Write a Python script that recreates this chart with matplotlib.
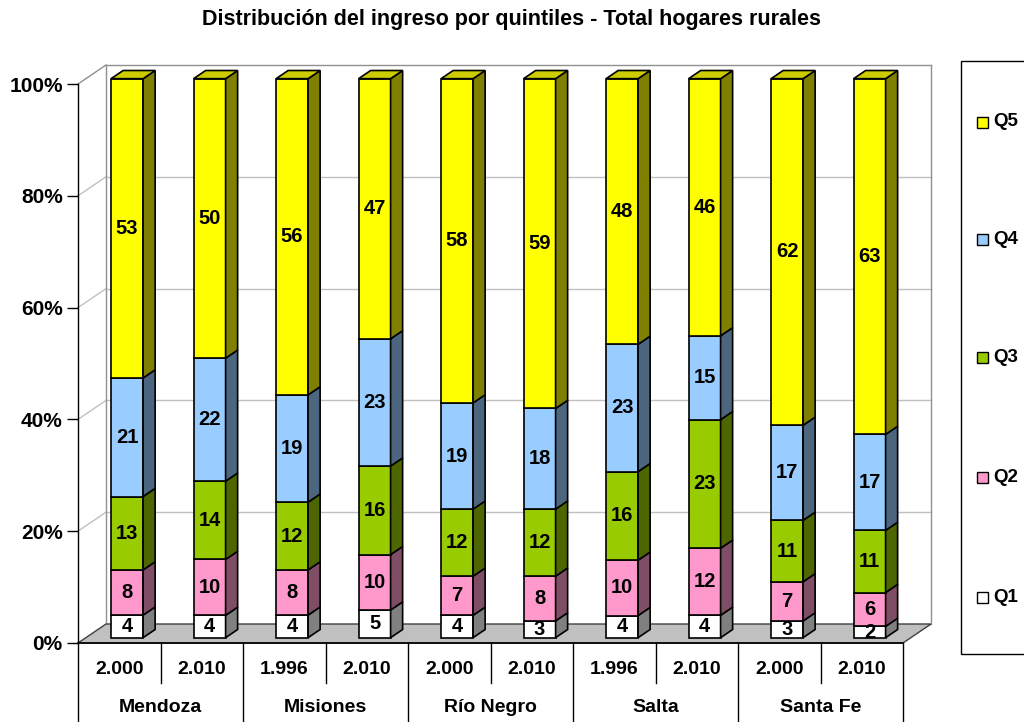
import numpy as np
import matplotlib.pyplot as plt
from matplotlib.patches import Polygon, Rectangle

plt.rcParams['font.family'] = ['Liberation Sans', 'DejaVu Sans']
plt.rcParams['font.weight'] = 'bold'

years = ["2.000", "2.010", "1.996", "2.010", "2.000", "2.010", "1.996", "2.010", "2.000", "2.010"]
provinces = ["Mendoza", "Misiones", "Río Negro", "Salta", "Santa Fe"]
quintiles = ["Q1", "Q2", "Q3", "Q4", "Q5"]
q1 = [4, 4, 4, 5, 4, 3, 4, 4, 3, 2]
q2 = [8, 10, 8, 10, 7, 8, 10, 12, 7, 6]
q3 = [13, 14, 12, 16, 12, 12, 16, 23, 11, 11]
q4 = [21, 22, 19, 23, 19, 18, 23, 15, 17, 17]
q5 = [53, 50, 56, 47, 58, 59, 48, 46, 62, 63]

front = ["#FFFFFF", "#FF99CC", "#99CC00", "#99CCFF", "#FFFF00"]
side = ["#808080", "#804D66", "#4D6600", "#4D6680", "#808000"]
top = ["#C0C0C0", "#CC7AA3", "#7AA300", "#7AA3CC", "#CCCC00"]

W, H = 1024, 722
fig = plt.figure(figsize=(W / 100, H / 100), dpi=100)
ax = fig.add_axes([78 / W, (H - 643) / H, 825 / W, 559 / H])
n = len(years)
ax.set_xlim(-0.5, n - 0.5)
ax.set_ylim(0, 100)

pxx = 1 / 82.5          # data units per pixel in x
pxy = 100 / 559         # data units per pixel in y
DX, DY = 28 * pxx, 19 * pxy   # depth of the chart
f0, fd = 0.28, 0.43           # bar front position and depth (fraction)
bw = 32 * pxx

grid_c = "#C0C0C0"
# walls and gridlines
for g in [20, 40, 60, 80, 100]:
    c = grid_c if g < 100 else "#909090"
    ax.plot([-0.5, -0.5 + DX], [g, g + DY], color=c, lw=1, zorder=1, clip_on=False)
    ax.plot([-0.5 + DX, n - 0.5 + DX], [g + DY, g + DY], color=c, lw=1, zorder=1, clip_on=False)
ax.plot([-0.5 + DX, -0.5 + DX], [DY, 100 + DY], color="#909090", lw=1, zorder=1, clip_on=False)
ax.plot([n - 0.5 + DX, n - 0.5 + DX], [DY, 100 + DY], color="#909090", lw=1, zorder=1, clip_on=False)
# floor
ax.add_patch(Polygon([(-0.5, 0), (n - 0.5, 0), (n - 0.5 + DX, DY), (-0.5 + DX, DY)],
                     closed=True, facecolor="#C0C0C0", edgecolor="#404040", lw=1, zorder=2, clip_on=False))

data = np.array([q1, q2, q3, q4, q5], dtype=float)
pct = data / data.sum(axis=0) * 100
x = np.arange(n)
ox, oy = f0 * DX, f0 * DY
sx, sy = fd * DX, fd * DY
bottom = np.zeros(n)
for k in range(5):
    h = pct[k]
    ax.bar(x + ox, h, bottom=bottom + oy, width=bw, color=front[k], edgecolor="black",
           lw=1.2, zorder=5, clip_on=False)
    for i in range(n):
        xr = x[i] + ox + bw / 2
        xl = x[i] + ox - bw / 2
        b = bottom[i] + oy
        t = b + h[i]
        ax.add_patch(Polygon([(xr, b), (xr + sx, b + sy), (xr + sx, t + sy), (xr, t)], closed=True,
                             facecolor=side[k], edgecolor="black", lw=1.2, zorder=5, clip_on=False))
        if k == 4:
            ax.add_patch(Polygon([(xl, t), (xr, t), (xr + sx, t + sy), (xl + sx, t + sy)], closed=True,
                                 facecolor=top[k], edgecolor="black", lw=1.2, zorder=5, clip_on=False))
        ax.text(x[i] + ox, b + h[i] / 2, str(int(data[k, i])), ha="center", va="center",
                fontsize=14.5, fontweight="bold", zorder=6)
    bottom += h

# axes styling
for s in ["top", "right", "bottom"]:
    ax.spines[s].set_visible(False)
ax.spines["left"].set_linewidth(1)
ax.set_yticks([0, 20, 40, 60, 80, 100])
ax.set_yticklabels(["0%", "20%", "40%", "60%", "80%", "100%"], fontsize=15, fontweight="bold")
ax.tick_params(axis="y", length=8, width=1, pad=3)
ax.set_xticks([])
ax.patch.set_alpha(0)

# category table below the floor
row1 = -40 * pxy
row2 = -90 * pxy
ax.plot([-0.5, n - 0.5], [0, 0], color="black", lw=1.2, zorder=3, clip_on=False)
for i in range(n + 1):
    yb = row2 if i % 2 == 0 else row1
    ax.plot([i - 0.5, i - 0.5], [0, yb], color="black", lw=1, clip_on=False)
for i in range(n):
    ax.text(i, -27 * pxy, years[i], ha="center", va="center", fontsize=14, fontweight="bold")
for j, p in enumerate(provinces):
    ax.text(2 * j + 0.5, -65 * pxy, p, ha="center", va="center", fontsize=14, fontweight="bold")

fig.text(512 / W, 1 - 19 / H, "Distribución del ingreso por quintiles - Total hogares rurales",
         ha="center", va="center", fontsize=15.5, fontweight="bold")

# legend box
fig.patches.append(Rectangle((961 / W, (H - 654) / H), 80 / W, 593 / H, transform=fig.transFigure,
                             facecolor="white", edgecolor="black", lw=1))
leg_y = [597, 477, 358, 240, 122]
for k in range(5):
    yc = 1 - leg_y[k] / H
    fig.patches.append(Rectangle((977 / W, yc - 5.5 / H), 11 / W, 11 / H, transform=fig.transFigure,
                                 facecolor=front[k], edgecolor="black", lw=1))
    fig.text(993 / W, yc, quintiles[k], ha="left", va="center", fontsize=13.5, fontweight="bold")

fig.savefig("out.png", dpi=100)
